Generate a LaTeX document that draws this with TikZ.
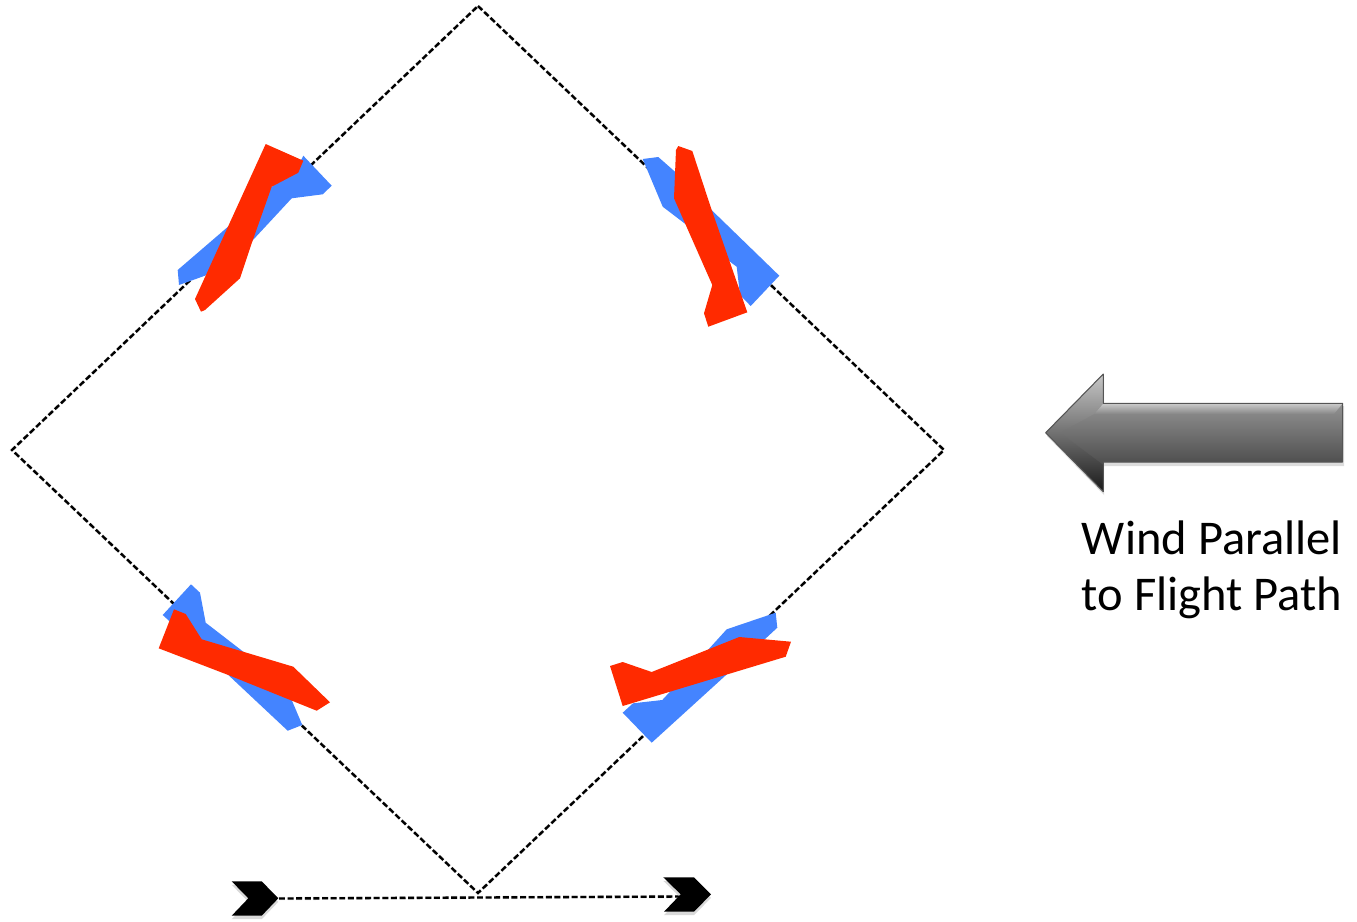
\documentclass[tikz,border=0pt]{standalone}
\usepackage{xcolor}
\usepackage{fontspec}
\setmainfont{Carlito}
\usepackage{tikz}
\usetikzlibrary{calc,shadows}
\definecolor{flatblue}{HTML}{4484FF}
\definecolor{flatred}{HTML}{FF2A00}
\definecolor{arrowtop}{HTML}{B4B4B4}
\definecolor{arrowbot}{HTML}{2E2E2E}
\definecolor{arrowrim}{HTML}{555555}
\definecolor{arrowmid}{HTML}{868686}
\definecolor{arrowtip}{HTML}{717171}
\tikzset{
  path/.style={draw=black,line width=1.35pt,dash pattern=on 3.4pt off 1.5pt},
  pathshadow/.style={draw=black!12,line width=1.9pt,dash pattern=on 3.4pt off 1.5pt},
  blueshape/.style={fill=flatblue},
  redshape/.style={fill=flatred},
  chevron/.style={fill=black,general shadow={fill=black!25,shadow xshift=0pt,shadow yshift=-2pt,opacity=0.6}},
  lab/.style={align=center,font=\fontsize{27.6}{31.7}\selectfont}
}
\begin{document}
\begin{tikzpicture}[x=0.02cm,y=-0.02cm]
\useasboundingbox (0,0) rectangle (1357,921);
\coordinate (north) at (478,6);
\coordinate (east) at (944,450);
\coordinate (south) at (478,893);
\coordinate (west) at (12,450);
\coordinate (trackstart) at (279,898.5);
\coordinate (trackend) at (681,896.5);
% flight path
\draw[pathshadow,yshift=-0.05cm] (north)--(east)--(south)--(west)--cycle;
\draw[path] (north)--(east)--(south)--(west)--cycle;
\draw[pathshadow,yshift=-0.06cm] (trackstart)--(trackend);
\draw[path] (trackstart)--(trackend);
\fill[chevron] (231.7,881.3)--(261.7,881.3)--(278.3,898.3)--(261.7,915.7)--(231.7,915.7)--(248.3,898.3)--cycle;
\fill[chevron] (663.3,877.3)--(694,877.3)--(711,894.3)--(694,911.7)--(664,911.7)--(680.7,894.3)--cycle;
% upper left
\fill[blueshape] (177.7,270)--(179,285)--(205,275.7)--(253,240)--(291.7,198.3)--(322.7,194.3)--(331.7,185.7)--(303.3,155.7)--(296,170)--(270,188)--(230,225)--cycle;
\fill[redshape] (265.7,144)--(303.3,160.7)--(298.3,172.7)--(271.7,186.7)--(251.7,243.3)--(240,278.3)--(205,310)--(201,311.7)--(195,299)--cycle;
% upper right
\fill[blueshape] (642.7,159)--(658.3,157)--(675,171.7)--(713.3,211.7)--(779.3,275.7)--(750.7,306)--(740,295)--(736.7,266.7)--(731.7,263)--(686.7,225)--(662.7,206.7)--cycle;
\fill[redshape] (678.3,146)--(692.3,151)--(710,205)--(747.3,312.3)--(708.3,326.7)--(704,313.3)--(712.3,285)--(674,198.3)--(676,150)--cycle;
% lower left
\fill[blueshape] (191,584.3)--(200,592.7)--(205.7,622.7)--(243.3,651.7)--(291.7,700)--(302.3,725)--(287.7,730.7)--(228.3,675)--(162.7,615)--cycle;
\fill[redshape] (174,609.3)--(185.7,614)--(201.7,639.3)--(293.3,666.7)--(330,702.3)--(316.7,710.7)--(228.3,675)--(158.7,648.3)--cycle;
% lower right
\fill[blueshape] (775.7,612.7)--(777.3,627.7)--(725,676)--(651.7,742.7)--(622.7,712.7)--(633,703.3)--(662.3,700)--(670,691.7)--(726.7,629.3)--cycle;
\fill[redshape] (610,666)--(622.7,662)--(651.7,672)--(739.3,637)--(791,641.7)--(785.7,656.7)--(622.7,706)--cycle;
% wind arrow
\fill[black!30,opacity=0.45] (1047,436)--(1104,377)--(1104,406)--(1344,406)--(1344,466)--(1104,466)--(1104,495)--cycle;
\shade[top color=arrowtop,bottom color=arrowbot] (1045.7,432.7)--(1103.3,374)--(1103.3,403.3)--(1342.7,403.3)--(1342.7,462)--(1103.3,462)--(1103.3,491.7)--cycle;
\shade[top color=black!20,bottom color=arrowmid] (1103.3,403.3)--(1342.7,403.3)--(1334,414)--(1094,414)--cycle;
\shade[top color=black!22,bottom color=arrowtip] (1045.7,432.7)--(1103.3,374)--(1103.3,403.3)--(1094,414)--(1060,432.7)--cycle;
\shade[top color=arrowtip,bottom color=black!90] (1045.7,432.7)--(1060,432.7)--(1103.3,465)--(1103.3,491.7)--cycle;
\draw[arrowrim,line width=0.6pt,line join=round] (1045.7,432.7)--(1103.3,374)--(1103.3,403.3)--(1342.7,403.3)--(1342.7,462)--(1103.3,462)--(1103.3,491.7)--cycle;
\node[lab] (windlab) at (1212,570) {Wind Parallel\\to Flight Path};
\end{tikzpicture}
\end{document}
